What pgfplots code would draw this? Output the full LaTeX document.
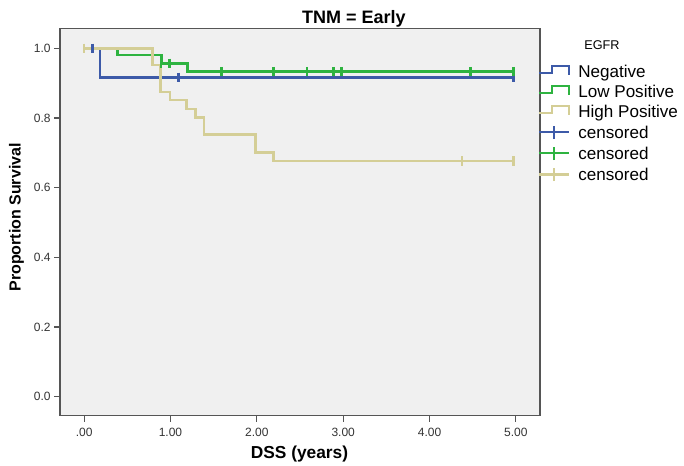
\documentclass[border=0pt]{standalone}
\usepackage{pgfplots}
\pgfplotsset{compat=1.18}
\usepackage{fontspec}
\setmainfont{Liberation Sans}
\definecolor{cblue}{HTML}{3D5AA8}
\definecolor{cgreen}{HTML}{2EB340}
\definecolor{ctan}{HTML}{D4CE96}
\definecolor{bgc}{HTML}{F0F0F0}
\definecolor{framec}{HTML}{555555}
\pgfplotsset{
  steplegend/.style={legend image code/.code={
    \draw[#1, line width=1.6pt] (0pt,-0.2pt) -- (9.5pt,-0.2pt) -- (9.5pt,4.8pt) -- (22.5pt,4.8pt) -- (22.5pt,-2pt);
    \path[draw=none] (0pt,0pt) -- (29.25pt,0pt);}},
  censlegend/.style={legend image code/.code={
    \draw[#1, line width=1.6pt] (0pt,1pt) -- (22.5pt,1pt);
    \draw[#1, line width=1.6pt] (11.25pt,-4pt) -- (11.25pt,6pt);
    \path[draw=none] (0pt,0pt) -- (29.25pt,0pt);}},
}
\begin{document}
\begin{tikzpicture}
\path[use as bounding box] (-45pt,-36.975pt) rectangle (468pt,311.775pt);
\begin{axis}[
  at={(0pt,0pt)}, anchor=south west,
  scale only axis, width=360pt, height=290.55pt,
  xmin=-0.279, xmax=5.279, ymin=-0.0545, ymax=1.0574,
  axis background/.style={fill=bgc},
  axis line style={framec, line width=1pt},
  xtick={0,1,2,3,4,5}, xticklabels={.00,1.00,2.00,3.00,4.00,5.00},
  ytick={0,0.2,0.4,0.6,0.8,1.0}, yticklabels={0.0,0.2,0.4,0.6,0.8,1.0},
  tick align=outside, xtick pos=bottom, ytick pos=left,
  major tick length=4.5pt,
  tick style={framec, line width=0.8pt},
  /pgf/number format/assume math mode=true,
  ticklabel style={font=\fontsize{9}{10}\selectfont, text=black!80},
  xticklabel style={yshift=-1pt},
  yticklabel style={xshift=1pt},
  legend style={at={(rel axis cs:0.99583,0.9069)}, anchor=north west,
    draw=none, fill=none, inner sep=0pt, row sep=3pt, column sep=0pt,
    font=\fontsize{12.8}{14}\selectfont,
    nodes={inner sep=0pt, text height=9.5pt, text depth=2.5pt},
    cells={anchor=west}},
]
\addplot[const plot, cblue, line width=2pt, steplegend=cblue] coordinates {(0,1) (0.184,0.9167) (4.97,0.9167)};
\addlegendentry{Negative}
\addplot[const plot, cgreen, line width=2pt, steplegend=cgreen] coordinates {(0,1) (0.384,0.981) (0.893,0.957) (1.194,0.933) (4.97,0.933)};
\addlegendentry{Low Positive}
\addplot[const plot, ctan, line width=2pt, steplegend=ctan] coordinates {(0,1) (0.794,0.952) (0.887,0.875) (0.994,0.852) (1.188,0.826) (1.292,0.801) (1.388,0.753) (1.986,0.701) (2.19,0.677) (4.97,0.677)};
\addlegendentry{High Positive}
\addplot[only marks, cblue, mark=|, mark size=3.5pt, mark options={line width=2pt}, censlegend=cblue] coordinates {(0.10,1) (1.095,0.9167) (4.97,0.9167)};
\addlegendentry{censored}
\addplot[only marks, cgreen, mark=|, mark size=3.5pt, mark options={line width=2pt}, censlegend=cgreen] coordinates {(0.89,0.957) (0.99,0.957) (1.593,0.933) (2.19,0.933) (2.58,0.933) (2.884,0.933) (2.98,0.933) (4.475,0.933) (4.97,0.933)};
\addlegendentry{censored}
\addplot[only marks, ctan, mark=|, mark size=3.5pt, mark options={line width=2pt}, censlegend=ctan] coordinates {(0,1) (4.377,0.677) (4.97,0.677)};
\addlegendentry{censored}
\end{axis}
\node[anchor=base, font=\bfseries\fontsize{13.5}{15}\selectfont] at (220.5pt,294.3pt) {TNM = Early};
\node[anchor=base, font=\bfseries\fontsize{13}{15}\selectfont] at (179.6pt,-31.95pt) {DSS (years)};
\node[anchor=base, rotate=90, font=\bfseries\fontsize{12}{14}\selectfont] at (-29.5pt,148.7pt) {Proportion Survival};
\node[anchor=base, font=\fontsize{9.5}{11}\selectfont] at (406.5pt,274.8pt) {EGFR};
\end{tikzpicture}
\end{document}
